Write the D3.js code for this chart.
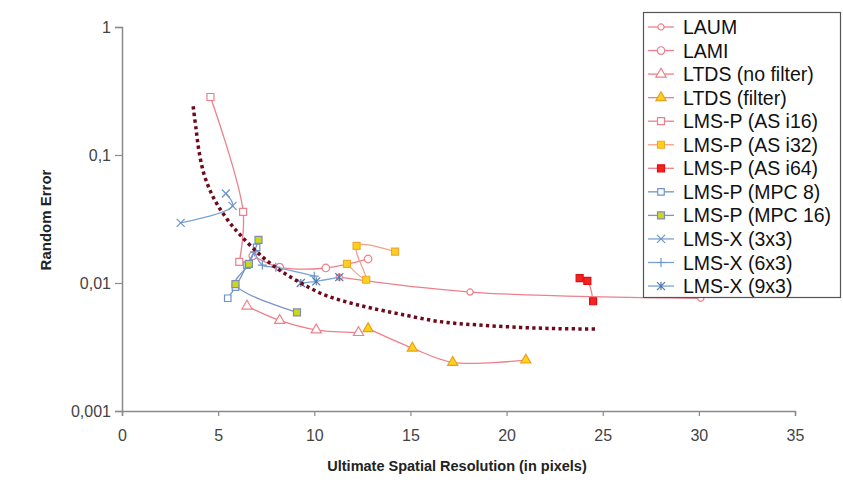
<!DOCTYPE html>
<html>
<head>
<meta charset="utf-8">
<script src="https://cdn.jsdelivr.net/npm/d3@7"></script>
<style>
body { margin: 0; background: #fff; }
text { font-family: "Liberation Sans", Arial, sans-serif; }
</style>
</head>
<body>
<script>
// series names, in legend order
var seriesNames = ["LAUM", "LAMI", "LTDS (no filter)", "LTDS (filter)", "LMS-P (AS i16)", "LMS-P (AS i32)",
  "LMS-P (AS i64)", "LMS-P (MPC 8)", "LMS-P (MPC 16)", "LMS-X (3x3)", "LMS-X (6x3)", "LMS-X (9x3)"];

// [resolution (px), random error]
var laum = [[11.3, 0.0111], [18.1, 0.0085], [30.1, 0.0076]];
var lami = [[6.8, 0.0163], [8.2, 0.0133], [10.6, 0.0131], [12.8, 0.0154]];
var ltdsNoFilter = [[6.5, 0.0066], [8.2, 0.0051], [10.1, 0.0043], [12.3, 0.0041]];
var ltdsFilter = [[12.8, 0.0044], [15.1, 0.0031], [17.2, 0.0024], [21.0, 0.0025]];
var asI16 = [[4.6, 0.284], [6.3, 0.036], [6.1, 0.0146]];
var asI32 = [[14.2, 0.0176], [12.2, 0.0195], [12.7, 0.0106], [11.7, 0.0141]];
var asI64 = [[23.8, 0.0109], [24.2, 0.0104], [24.5, 0.0072]];
var mpc8 = [[5.5, 0.0076], [5.9, 0.0093], [6.5, 0.0138], [7.0, 0.019]];
var mpc16 = [[7.1, 0.0217], [6.6, 0.0141], [5.9, 0.0098], [9.1, 0.0059]];
var x3x3 = [[5.4, 0.050], [5.75, 0.040], [3.05, 0.0295]];
var x6x3 = [[6.9, 0.0175], [7.3, 0.0138], [8.0, 0.0133], [10.0, 0.0113]];
var x9x3 = [[9.3, 0.0100], [10.1, 0.0103], [11.3, 0.0111]];

// dotted trend line
var trend = [[3.7, 0.24], [3.85, 0.16], [4.0, 0.108], [4.25, 0.072], [4.6, 0.052], [5.0, 0.040],
  [5.5, 0.031], [6.15, 0.0237], [7.3, 0.016], [8.2, 0.0126], [9.3, 0.0100],
  [10.5, 0.0081], [11.7, 0.0071], [12.9, 0.0064], [14.5, 0.0057], [16.5, 0.0050], [18.5, 0.0047],
  [20.7, 0.0045], [22.7, 0.0044], [24.75, 0.00437]];

var xTicks = [0, 5, 10, 15, 20, 25, 30, 35];
var yTicks = [1, 0.1, 0.01, 0.001];
var yTickLabels = ["1", "0,1", "0,01", "0,001"];

var seriesData = [laum, lami, ltdsNoFilter, ltdsFilter, asI16, asI32, asI64, mpc8, mpc16, x3x3, x6x3, x9x3];

var pink = "#ee7f8b", blue = "#6b94c8";
var styles = [
  { shape: "circle", size: 30, fill: "#fff", stroke: pink, line: pink },
  { shape: "circle", size: 45, fill: "#fff", stroke: pink, line: pink },
  { shape: "triangle", size: 45, fill: "#fff", stroke: pink, line: pink },
  { shape: "triangle", size: 45, fill: "#ffd21a", stroke: "#e8a020", line: pink },
  { shape: "square", size: 49, fill: "#fff", stroke: pink, line: pink },
  { shape: "square", size: 49, fill: "#ffd21a", stroke: "#f0a830", line: "#f3a286" },
  { shape: "square", size: 49, fill: "#f52222", stroke: "#e01010", line: pink },
  { shape: "square", size: 42, fill: "#fff", stroke: blue, line: blue },
  { shape: "square", size: 49, fill: "#cdd618", stroke: "#7d8fb8", line: "#7f92c8" },
  { shape: "x", size: 4, fill: "none", stroke: blue, line: "#7aa2d2" },
  { shape: "plus", size: 4.5, fill: "none", stroke: blue, line: "#7aa2d2" },
  { shape: "star", size: 4, fill: "none", stroke: "#4f78b0", line: "#7aa2d2" }
];

var W = 843, H = 485;
var svg = d3.select("body").append("svg").attr("width", W).attr("height", H);

var x = d3.scaleLinear().domain([0, 35]).range([122, 795]);
var y = d3.scaleLog().domain([0.001, 1]).range([411, 27]);

function markerPath(s) {
  var r = s.size;
  if (s.shape == "circle") return d3.symbol(d3.symbolCircle, s.size)();
  if (s.shape == "triangle") return d3.symbol(d3.symbolTriangle, s.size)();
  if (s.shape == "square") return d3.symbol(d3.symbolSquare, s.size)();
  if (s.shape == "x") return "M" + -r + "," + -r + "L" + r + "," + r + "M" + -r + "," + r + "L" + r + "," + -r;
  if (s.shape == "plus") return "M" + -r + ",0L" + r + ",0M0," + -r + "L0," + r;
  return "M" + -r + "," + -r + "L" + r + "," + r + "M" + -r + "," + r + "L" + r + "," + -r + "M0," + -r + "L0," + r;
}

// axes
var yAxis = d3.axisLeft(y).tickValues(yTicks).tickSize(7).tickFormat(function (d, i) { return yTickLabels[i]; });
var gy = svg.append("g").attr("transform", "translate(122,0)").call(yAxis);
var xAxis = d3.axisBottom(x).tickValues(xTicks).tickSize(5);
var gx = svg.append("g").attr("transform", "translate(0,411)").call(xAxis);

[gx, gy].forEach(function (g) {
  g.select(".domain").attr("stroke", "#8a8a8a").attr("stroke-width", 1.5);
  g.selectAll(".tick line").attr("stroke", "#8a8a8a").attr("stroke-width", 1.2);
  g.selectAll(".tick text").attr("fill", "#444").style("font-size", "16px")
    .style("font-family", "'Liberation Sans', Arial, sans-serif");
});
gy.selectAll(".tick text").attr("x", -11);
gx.selectAll(".tick text").attr("y", 19);

svg.append("text").attr("x", 457).attr("y", 471).attr("text-anchor", "middle")
  .style("font-size", "14.5px").style("font-weight", "bold").attr("fill", "#222")
  .text("Ultimate Spatial Resolution (in pixels)");
svg.append("text").attr("transform", "translate(51,220) rotate(-90)").attr("text-anchor", "middle")
  .style("font-size", "15px").style("font-weight", "bold").attr("fill", "#222")
  .text("Random Error");

var line = d3.line().x(function (d) { return x(d[0]); }).y(function (d) { return y(d[1]); })
  .curve(d3.curveCatmullRom.alpha(0.5));

// series lines then markers
var groups = svg.selectAll("g.series")
  .data(seriesData)
  .enter().append("g").attr("class", "series");

groups.append("path")
  .attr("d", function (d) { return line(d); })
  .attr("fill", "none")
  .attr("stroke", function (d, i) { return styles[i].line; })
  .attr("stroke-width", 1.3);

groups.each(function (d, i) {
  var s = styles[i];
  d3.select(this).selectAll("path.pt")
    .data(d)
    .enter().append("path").attr("class", "pt")
    .attr("transform", function (p) { return "translate(" + x(p[0]) + "," + y(p[1]) + ")"; })
    .attr("d", markerPath(s))
    .attr("fill", s.fill)
    .attr("stroke", s.stroke)
    .attr("stroke-width", 1.2);
});

// trend
svg.append("path")
  .attr("d", line(trend))
  .attr("fill", "none")
  .attr("stroke", "#6e0a1c")
  .attr("stroke-width", 3.5)
  .attr("stroke-dasharray", "3.3,3.3");

// legend
var legend = svg.append("g");
legend.append("rect").attr("x", 643.5).attr("y", 12.5).attr("width", 197).attr("height", 285)
  .attr("fill", "#fff").attr("stroke", "#555").attr("stroke-width", 1.2);

var rows = legend.selectAll("g.row")
  .data(seriesNames)
  .enter().append("g").attr("class", "row")
  .attr("transform", function (d, i) { return "translate(0," + (27 + i * 23.55) + ")"; });

rows.append("line").attr("x1", 648).attr("x2", 674).attr("y1", 0).attr("y2", 0)
  .attr("stroke", function (d, i) { return styles[i].line; }).attr("stroke-width", 1.3);
rows.append("path")
  .attr("transform", "translate(661,0)")
  .attr("d", function (d, i) { return markerPath(styles[i]); })
  .attr("fill", function (d, i) { return styles[i].fill; })
  .attr("stroke", function (d, i) { return styles[i].stroke; })
  .attr("stroke-width", 1.2);
rows.append("text").attr("x", 683).attr("y", 7)
  .style("font-size", "19.5px").attr("fill", "#111")
  .text(function (d) { return d; });
</script>
</body>
</html>
